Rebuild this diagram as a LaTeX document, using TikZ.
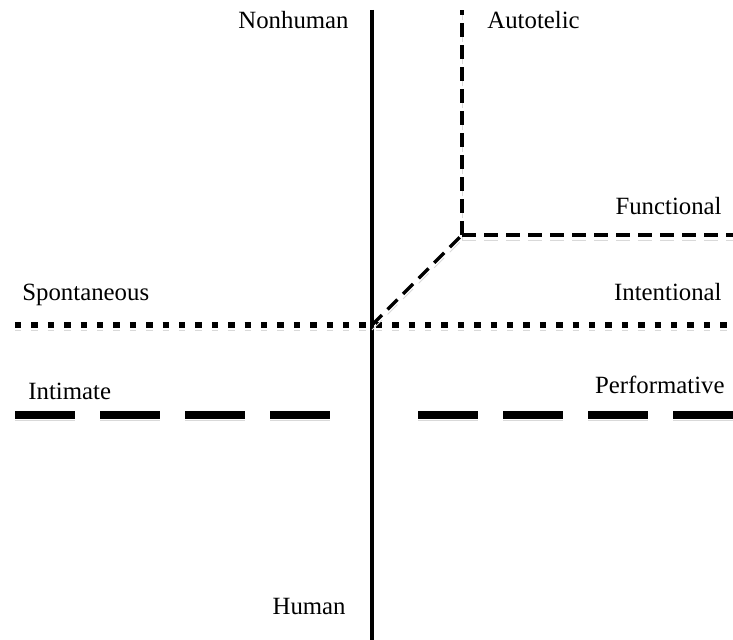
\documentclass[tikz,border=0pt]{standalone}
\usepackage{fontspec}
\setmainfont{Liberation Serif}
\tikzset{
  shadowed/.style={preaction={draw=black!15, #1, transform canvas={yshift=-2.5pt}}},
  axisline/.style={line width=2pt, shadowed={solid}},
  dotline/.style={line width=3.2pt, dash pattern=on 3.2pt off 5pt,
    shadowed={dash pattern=on 3.2pt off 5pt}},
  longdash/.style={line width=4pt, dash pattern=on 30pt off 12.5pt,
    shadowed={dash pattern=on 30pt off 12.5pt}},
  shortdash/.style={line width=1.6pt, dash pattern=on 7pt off 4pt,
    shadowed={dash pattern=on 7pt off 4pt}},
  lbl/.style={font=\fontsize{12.4}{14}\selectfont, inner sep=0pt}
}
\begin{document}
\begin{tikzpicture}[x=0.5pt, y=-0.5pt]
\useasboundingbox (0,0) rectangle (733,640);
\path (372, 325) coordinate (centre)
      (372,  10) coordinate (top)
      (372, 640) coordinate (bottom)
      (462, 235) coordinate (bend);

% axes
\draw [axisline] (top) -- (bottom);
\draw [dotline] (15, 325) coordinate (spon) -- (728, 325) coordinate (inten);
\draw [longdash] (15, 415) coordinate (intim) -- (330, 415);
\draw [longdash] (418, 415) -- (733, 415) coordinate (perf);

% autotelic / functional branch
\draw [shortdash] (centre) -- (bend);
\draw [shortdash] (bend) -- (462, 10) coordinate (auto);
\draw [shortdash] (bend) -- (733, 235) coordinate (func);

% labels
\node [lbl, anchor=east] (nonhuman) at (349, 20) {Nonhuman};
\node [lbl, anchor=west] (autotelic) at (487, 20) {Autotelic};
\node [lbl, anchor=east] (functional) at (722, 206) {Functional};
\node [lbl, anchor=east] (intentional) at (722, 292) {Intentional};
\node [lbl, anchor=west] (spontaneous) at (22, 295) {Spontaneous};
\node [lbl, anchor=west] (intimate) at (28, 391) {Intimate};
\node [lbl, anchor=east] (performative) at (725, 385) {Performative};
\node [lbl, anchor=east] (human) at (346, 607) {Human};
\end{tikzpicture}
\end{document}
